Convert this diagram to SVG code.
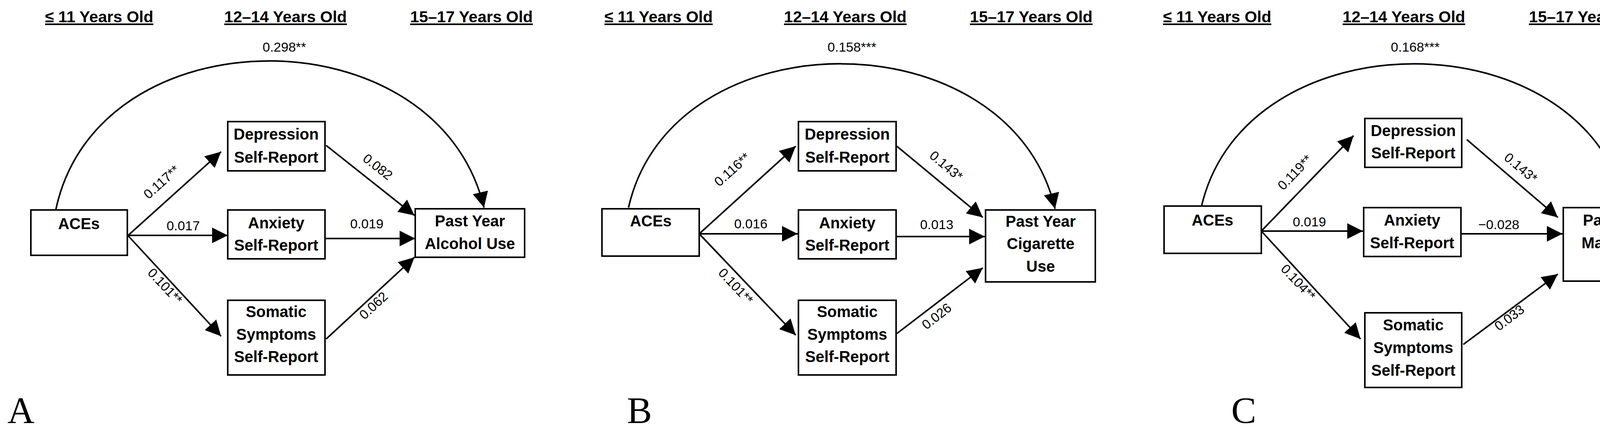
<svg xmlns="http://www.w3.org/2000/svg" width="4296" height="1110" viewBox="0 0 4296 1110">
<style>
.bx{fill:#fff;stroke:#000;stroke-width:4}
.nt{font-family:"Liberation Sans",Arial,sans-serif;font-weight:bold;font-size:40px;text-anchor:middle}
.hd{font-family:"Liberation Sans",Arial,sans-serif;font-weight:bold;font-size:41px;text-anchor:middle;text-decoration:underline}
.el{font-family:"Liberation Sans",Arial,sans-serif;font-size:34px;text-anchor:middle}
.pl{font-family:"Liberation Serif","Times New Roman",serif;font-size:96px}
.cn{fill:none;stroke:#000;stroke-width:4;marker-end:url(#ah)}
</style>
<defs>
<marker id="ah" markerUnits="userSpaceOnUse" markerWidth="40" markerHeight="40" refX="36" refY="18" orient="auto" viewBox="0 0 36 36"><path d="M0,0 L36,18 L0,36 z" fill="#000"/></marker>
</defs>
<rect width="4296" height="1110" fill="#fff"/>
<g id="headers">
<text class="hd" x="254" y="57">≤ 11 Years Old</text>
<text class="hd" x="731" y="57">12–14 Years Old</text>
<text class="hd" x="1207" y="57">15–17 Years Old</text>
<text class="hd" x="1686" y="57">≤ 11 Years Old</text>
<text class="hd" x="2164" y="57">12–14 Years Old</text>
<text class="hd" x="2640" y="57">15–17 Years Old</text>
<text class="hd" x="3116" y="57">≤ 11 Years Old</text>
<text class="hd" x="3594" y="57">12–14 Years Old</text>
<text class="hd" x="4071" y="57">15–17 Years Old</text>
</g>
<g id="panel-labels">
<text class="pl" x="19" y="1082">A</text>
<text class="pl" x="1605" y="1082">B</text>
<text class="pl" x="3152" y="1082">C</text>
</g>
<g id="connectors">
<path class="cn" d="M143,536 C250,30 1120,30 1239,531"/>
<path class="cn" d="M328,602 L566,388"/>
<path class="cn" d="M328,602 L583,602"/>
<path class="cn" d="M328,603 L566,860"/>
<path class="cn" d="M835,372 L1061,551"/>
<path class="cn" d="M832,610 L1063,610"/>
<path class="cn" d="M835,867 L1061,658"/>
<path class="cn" d="M1609,531 C1720,40 2585,40 2701,534"/>
<path class="cn" d="M1790,598 L2037,374"/>
<path class="cn" d="M1790,598 L2042,598"/>
<path class="cn" d="M1790,598 L2037,857"/>
<path class="cn" d="M2296,374 L2516,556"/>
<path class="cn" d="M2294,605 L2521,605"/>
<path class="cn" d="M2296,853 L2516,685"/>
<path class="cn" d="M3076,527 C3190,42 4050,42 4163,527"/>
<path class="cn" d="M3229,591 L3465,347"/>
<path class="cn" d="M3229,591 L3489,591"/>
<path class="cn" d="M3229,591 L3483,867"/>
<path class="cn" d="M3755,357 L3988,556"/>
<path class="cn" d="M3740,598 L4000,598"/>
<path class="cn" d="M3746,881 L3988,701"/>
</g>
<g id="edge-labels">
<text class="el" x="728" y="132">0.298**</text>
<text class="el" transform="translate(421,474) rotate(-42)">0.117**</text>
<text class="el" x="469" y="589">0.017</text>
<text class="el" transform="translate(414,740) rotate(47)">0.101**</text>
<text class="el" transform="translate(960,436) rotate(38)">0.082</text>
<text class="el" x="939" y="584">0.019</text>
<text class="el" transform="translate(964,790) rotate(-43)">0.062</text>
<text class="el" x="2181" y="132">0.158***</text>
<text class="el" transform="translate(1882,442) rotate(-42)">0.116**</text>
<text class="el" x="1922" y="584">0.016</text>
<text class="el" transform="translate(1875,740) rotate(47)">0.101**</text>
<text class="el" transform="translate(2415,433) rotate(40)">0.143*</text>
<text class="el" x="2398" y="586">0.013</text>
<text class="el" transform="translate(2405,818) rotate(-38)">0.026</text>
<text class="el" x="3623" y="132">0.168***</text>
<text class="el" transform="translate(3323,449) rotate(-46)">0.119**</text>
<text class="el" x="3352" y="579">0.019</text>
<text class="el" transform="translate(3315,730) rotate(47)">0.104**</text>
<text class="el" transform="translate(3886,438) rotate(40)">0.143*</text>
<text class="el" x="3837" y="586">−0.028</text>
<text class="el" transform="translate(3871,822) rotate(-37)">0.033</text>
</g>
<g id="A-aces"><rect class="bx" x="79" y="537" width="247" height="116"/><text class="nt" x="202" y="586">ACEs</text></g>
<g id="A-dep"><rect class="bx" x="583" y="311" width="249" height="126"/><text class="nt" x="707" y="357">Depression</text><text class="nt" x="707" y="416">Self-Report</text></g>
<g id="A-anx"><rect class="bx" x="583" y="537" width="249" height="125"/><text class="nt" x="707" y="584">Anxiety</text><text class="nt" x="707" y="641">Self-Report</text></g>
<g id="A-som"><rect class="bx" x="583" y="768" width="249" height="191"/><text class="nt" x="707" y="811">Somatic</text><text class="nt" x="707" y="869">Symptoms</text><text class="nt" x="707" y="926">Self-Report</text></g>
<g id="A-out"><rect class="bx" x="1063" y="534" width="280" height="124"/><text class="nt" x="1203" y="579">Past Year</text><text class="nt" x="1203" y="637">Alcohol Use</text></g>
<g id="B-aces"><rect class="bx" x="1541" y="534" width="249" height="121"/><text class="nt" x="1666" y="579">ACEs</text></g>
<g id="B-dep"><rect class="bx" x="2044" y="311" width="250" height="126"/><text class="nt" x="2169" y="357">Depression</text><text class="nt" x="2169" y="416">Self-Report</text></g>
<g id="B-anx"><rect class="bx" x="2044" y="537" width="250" height="125"/><text class="nt" x="2169" y="584">Anxiety</text><text class="nt" x="2169" y="641">Self-Report</text></g>
<g id="B-som"><rect class="bx" x="2044" y="768" width="250" height="191"/><text class="nt" x="2169" y="811">Somatic</text><text class="nt" x="2169" y="869">Symptoms</text><text class="nt" x="2169" y="926">Self-Report</text></g>
<g id="B-out"><rect class="bx" x="2523" y="537" width="281" height="184"/><text class="nt" x="2664" y="580">Past Year</text><text class="nt" x="2664" y="637">Cigarette</text><text class="nt" x="2664" y="695">Use</text></g>
<g id="C-aces"><rect class="bx" x="2980" y="527" width="249" height="121"/><text class="nt" x="3104" y="577">ACEs</text></g>
<g id="C-dep"><rect class="bx" x="3494" y="303" width="248" height="125"/><text class="nt" x="3618" y="348">Depression</text><text class="nt" x="3618" y="405">Self-Report</text></g>
<g id="C-anx"><rect class="bx" x="3491" y="531" width="249" height="125"/><text class="nt" x="3615" y="577">Anxiety</text><text class="nt" x="3615" y="635">Self-Report</text></g>
<g id="C-som"><rect class="bx" x="3494" y="800" width="248" height="191"/><text class="nt" x="3618" y="845">Somatic</text><text class="nt" x="3618" y="903">Symptoms</text><text class="nt" x="3618" y="961">Self-Report</text></g>
<g id="C-out"><rect class="bx" x="4002" y="531" width="281" height="188"/><text class="nt" x="4142" y="577">Past Year</text><text class="nt" x="4142" y="635">Marijuana</text><text class="nt" x="4142" y="692">Use</text></g>
</svg>
